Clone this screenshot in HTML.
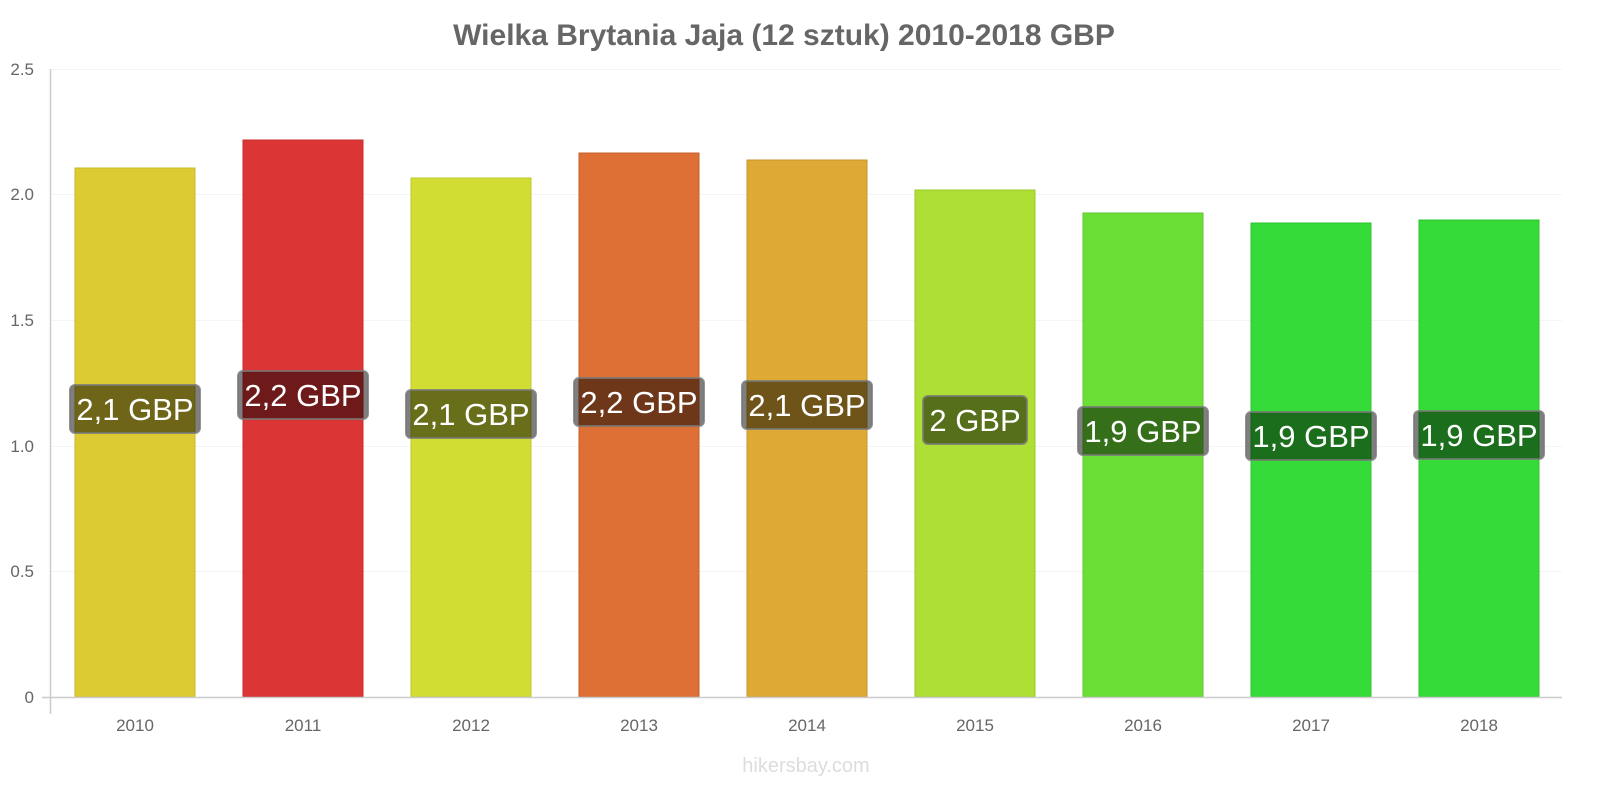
<!DOCTYPE html>
<html><head><meta charset="utf-8"><style>body{margin:0;background:#fff}svg{display:block;font-family:"Liberation Sans",sans-serif}</style></head>
<body>
<svg width="1600" height="800" xmlns="http://www.w3.org/2000/svg">
<text x="784" y="45" text-anchor="middle" font-size="30" font-weight="bold" fill="#666">Wielka Brytania Jaja (12 sztuk) 2010-2018 GBP</text>
<g stroke="#f5f5f5" stroke-width="1">
<line x1="50" y1="69.5" x2="1562" y2="69.5"/><line x1="50" y1="194.5" x2="1562" y2="194.5"/><line x1="50" y1="320.5" x2="1562" y2="320.5"/><line x1="50" y1="446.5" x2="1562" y2="446.5"/><line x1="50" y1="571.5" x2="1562" y2="571.5"/>
</g>
<g font-size="17" fill="#666" text-anchor="end">
<text x="34" y="75">2.5</text><text x="34" y="200">2.0</text><text x="34" y="326">1.5</text><text x="34" y="452">1.0</text><text x="34" y="577">0.5</text><text x="34" y="703">0</text>
</g>
<g stroke-width="1">
<rect x="75" y="168" width="120" height="529" fill="#dccb33" stroke="#c8b82c"/>
<rect x="243" y="140" width="120" height="557" fill="#dc3535" stroke="#c42e2e"/>
<rect x="411" y="178" width="120" height="519" fill="#d1dd33" stroke="#bcc72c"/>
<rect x="579" y="153" width="120" height="544" fill="#de6f35" stroke="#c6602c"/>
<rect x="747" y="160" width="120" height="537" fill="#dea935" stroke="#c6962c"/>
<rect x="915" y="190" width="120" height="507" fill="#addf35" stroke="#9ac82c"/>
<rect x="1083" y="213" width="120" height="484" fill="#6bdf35" stroke="#5ec82c"/>
<rect x="1251" y="223" width="120" height="474" fill="#35dc39" stroke="#2cc430"/>
<rect x="1419" y="220" width="120" height="477" fill="#35dc39" stroke="#2cc430"/>
</g>
<line x1="50.5" y1="69" x2="50.5" y2="714" stroke="#ccc" stroke-width="1.5"/>
<line x1="42" y1="697.5" x2="1562" y2="697.5" stroke="#ccc" stroke-width="1.5"/>
<g font-size="17" fill="#666" text-anchor="middle">
<text x="135" y="731">2010</text><text x="303" y="731">2011</text><text x="471" y="731">2012</text><text x="639" y="731">2013</text><text x="807" y="731">2014</text><text x="975" y="731">2015</text><text x="1143" y="731">2016</text><text x="1311" y="731">2017</text><text x="1479" y="731">2018</text>
</g>
<g font-size="31" fill="#fff" text-anchor="middle">
<g transform="translate(135,409)"><rect x="-65" y="-24" width="130" height="48" rx="5" fill="rgba(0,0,0,0.5)" stroke="rgba(120,120,120,0.8)" stroke-width="2"/><text y="11">2,1 GBP</text></g>
<g transform="translate(303,395)"><rect x="-65" y="-24" width="130" height="48" rx="5" fill="rgba(0,0,0,0.5)" stroke="rgba(120,120,120,0.8)" stroke-width="2"/><text y="11">2,2 GBP</text></g>
<g transform="translate(471,414)"><rect x="-65" y="-24" width="130" height="48" rx="5" fill="rgba(0,0,0,0.5)" stroke="rgba(120,120,120,0.8)" stroke-width="2"/><text y="11">2,1 GBP</text></g>
<g transform="translate(639,402)"><rect x="-65" y="-24" width="130" height="48" rx="5" fill="rgba(0,0,0,0.5)" stroke="rgba(120,120,120,0.8)" stroke-width="2"/><text y="11">2,2 GBP</text></g>
<g transform="translate(807,405)"><rect x="-65" y="-24" width="130" height="48" rx="5" fill="rgba(0,0,0,0.5)" stroke="rgba(120,120,120,0.8)" stroke-width="2"/><text y="11">2,1 GBP</text></g>
<g transform="translate(975,420)"><rect x="-52" y="-24" width="104" height="48" rx="5" fill="rgba(0,0,0,0.5)" stroke="rgba(120,120,120,0.8)" stroke-width="2"/><text y="11">2 GBP</text></g>
<g transform="translate(1143,431)"><rect x="-65" y="-24" width="130" height="48" rx="5" fill="rgba(0,0,0,0.5)" stroke="rgba(120,120,120,0.8)" stroke-width="2"/><text y="11">1,9 GBP</text></g>
<g transform="translate(1311,436)"><rect x="-65" y="-24" width="130" height="48" rx="5" fill="rgba(0,0,0,0.5)" stroke="rgba(120,120,120,0.8)" stroke-width="2"/><text y="11">1,9 GBP</text></g>
<g transform="translate(1479,435)"><rect x="-65" y="-24" width="130" height="48" rx="5" fill="rgba(0,0,0,0.5)" stroke="rgba(120,120,120,0.8)" stroke-width="2"/><text y="11">1,9 GBP</text></g>
</g>
<text x="806" y="772" text-anchor="middle" font-size="20" fill="#ddd">hikersbay.com</text>
</svg>
</body></html>
